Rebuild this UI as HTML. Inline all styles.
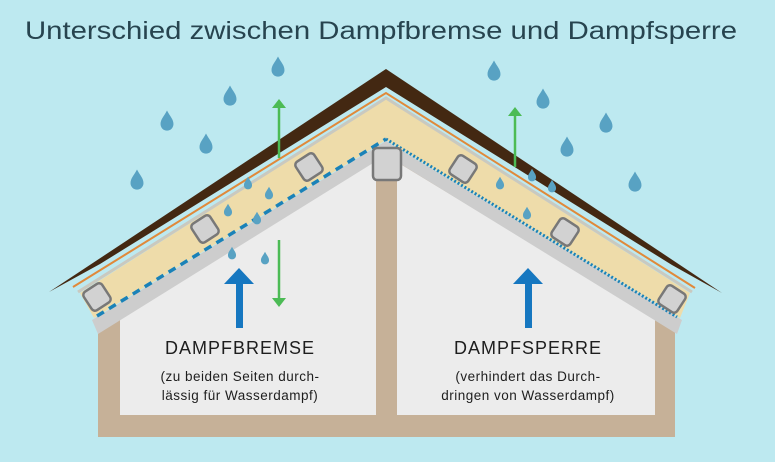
<!DOCTYPE html>
<html><head><meta charset="utf-8"><style>
html,body{margin:0;padding:0;background:#bde9f0;}
svg{display:block}
</style></head><body>
<svg width="775" height="462" viewBox="0 0 775 462" xmlns="http://www.w3.org/2000/svg">
<defs>
<path id="d" d="M0,-16 C4,-8 9,-4 9,3 A9,9 0 0 1 -9,3 C-9,-4 -4,-8 0,-16Z" fill="#58a2c3"/>
<rect id="sq" x="-11" y="-11" width="22" height="22" rx="4" fill="#d2d2d2" stroke="#787878" stroke-width="2.5"/>
</defs>
<rect width="775" height="462" fill="#bde9f0"/>
<text x="25" y="39" font-family="Liberation Sans, sans-serif" font-size="25" fill="#27444f" textLength="712" lengthAdjust="spacingAndGlyphs">Unterschied zwischen Dampfbremse und Dampfsperre</text>

<polygon points="98,322 386,150 675,322 675,437 98,437" fill="#c6b198"/>
<polygon points="120,319 376,160 376,415 120,415" fill="#ececec"/>
<polygon points="397,162 655,319 655,415 397,415" fill="#ececec"/>

<polygon points="49,292 386,69 722,293 672,265 386,87 100,264" fill="#432812"/>
<polyline points="73,287 386,93 695,288" fill="none" stroke="#e0893a" stroke-width="2"/>
<polygon points="80,293 386,99 690,293 680,318 386,140 94,318" fill="#eedcaa"/>
<polyline points="78,292 386,98 692,292" fill="none" stroke="#c9c9c0" stroke-width="3"/>
<polygon points="92,320 386,141 682,320 677,334 386,155 98,334" fill="#cdcdcd"/>
<polyline points="97,316 386,139" fill="none" stroke="#1a82b8" stroke-width="3.5" stroke-dasharray="8,6"/>
<polyline points="386,139 677,317" fill="none" stroke="#1a82b8" stroke-width="3" stroke-dasharray="2,2"/>

<rect x="376" y="160" width="21" height="258" fill="#c6b198"/>
<rect x="373" y="148" width="28" height="32" rx="4" fill="#d2d2d2" stroke="#787878" stroke-width="2.5"/>

<use href="#sq" transform="translate(97,297) rotate(-33)"/>
<use href="#sq" transform="translate(205,229) rotate(-33)"/>
<use href="#sq" transform="translate(309,167) rotate(-33)"/>
<use href="#sq" transform="translate(463,169) rotate(33)"/>
<use href="#sq" transform="translate(565,232) rotate(33)"/>
<use href="#sq" transform="translate(672,299) rotate(33)"/>

<use href="#d" transform="translate(278,68) scale(0.72)"/>
<use href="#d" transform="translate(230,97) scale(0.72)"/>
<use href="#d" transform="translate(167,122) scale(0.72)"/>
<use href="#d" transform="translate(206,145) scale(0.72)"/>
<use href="#d" transform="translate(137,181) scale(0.72)"/>
<use href="#d" transform="translate(494,72) scale(0.72)"/>
<use href="#d" transform="translate(543,100) scale(0.72)"/>
<use href="#d" transform="translate(606,124) scale(0.72)"/>
<use href="#d" transform="translate(567,148) scale(0.72)"/>
<use href="#d" transform="translate(635,183) scale(0.72)"/>
<use href="#d" transform="translate(248,184) scale(0.45)"/>
<use href="#d" transform="translate(269,194) scale(0.45)"/>
<use href="#d" transform="translate(228,211) scale(0.45)"/>
<use href="#d" transform="translate(257,219) scale(0.45)"/>
<use href="#d" transform="translate(232,254) scale(0.45)"/>
<use href="#d" transform="translate(265,259) scale(0.45)"/>
<use href="#d" transform="translate(500,184) scale(0.45)"/>
<use href="#d" transform="translate(532,176) scale(0.45)"/>
<use href="#d" transform="translate(552,187) scale(0.45)"/>
<use href="#d" transform="translate(527,214) scale(0.45)"/>

<g stroke="#4cbb55" stroke-width="2.5" fill="#4cbb55">
<line x1="279" y1="106" x2="279" y2="158"/>
<line x1="279" y1="240" x2="279" y2="300"/>
<line x1="515" y1="114" x2="515" y2="167"/>
</g>
<g fill="#4cbb55">
<polygon points="279,99 272,108 286,108"/>
<polygon points="279,307 272,298 286,298"/>
<polygon points="515,107 508,116 522,116"/>
</g>
<g fill="#1677c0">
<rect x="236" y="282" width="7" height="46"/>
<polygon points="239,268 224,284 254,284"/>
<rect x="525" y="282" width="7" height="46"/>
<polygon points="528,268 513,284 543,284"/>
</g>

<g font-family="Liberation Sans, sans-serif" fill="#1e1e1e" text-anchor="middle">
<text x="240" y="354" font-size="18" letter-spacing="1">DAMPFBREMSE</text>
<text x="240" y="381" font-size="13.5" letter-spacing="0.5">(zu beiden Seiten durch-</text>
<text x="240" y="400" font-size="13.5" letter-spacing="0.5">lässig für Wasserdampf)</text>
<text x="528" y="354" font-size="18" letter-spacing="1">DAMPFSPERRE</text>
<text x="528" y="381" font-size="13.5" letter-spacing="0.5">(verhindert das Durch-</text>
<text x="528" y="400" font-size="13.5" letter-spacing="0.5">dringen von Wasserdampf)</text>
</g>
</svg>
</body></html>
